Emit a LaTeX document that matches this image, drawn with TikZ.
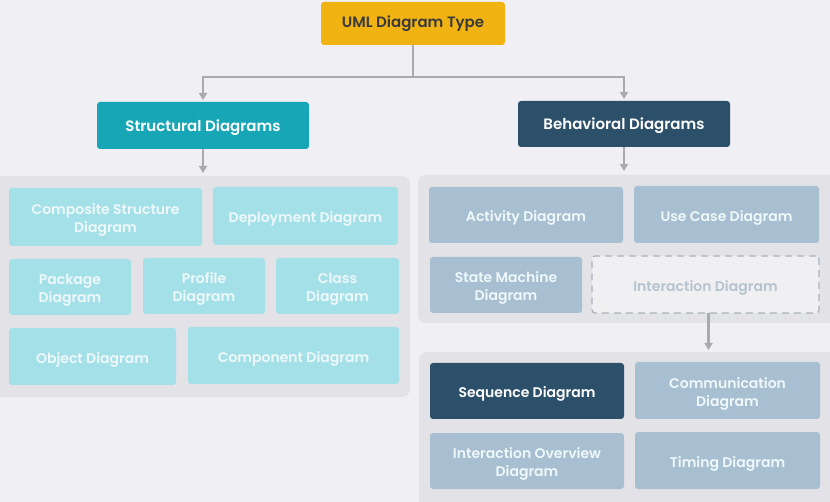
\documentclass[tikz,border=0pt]{standalone}
\usepackage{fontspec}
\setmainfont{Poppins}[BoldFont={Poppins SemiBold}]
\usetikzlibrary{arrows.meta,calc}
\definecolor{bgc}{HTML}{F0EFF3}
\definecolor{panelc}{HTML}{E3E2E6}
\definecolor{goldc}{HTML}{F1B312}
\definecolor{tealc}{HTML}{17A6B6}
\definecolor{navyc}{HTML}{2C5069}
\definecolor{cyanc}{HTML}{A4E0E8}
\definecolor{bgrayc}{HTML}{A7BFD0}
\definecolor{dashfill}{HTML}{F0F0F3}
\definecolor{dashline}{HTML}{A9B3BE}
\definecolor{dashtext}{HTML}{B5C3CE}
\definecolor{connc}{HTML}{A9A9AE}
\definecolor{titletext}{HTML}{3A3A3A}
\definecolor{lighttext}{HTML}{EEF8FA}
\newcommand\lbl[2][-3pt]{\raisebox{#1}[\height][\depth]{\begin{tabular}{@{}c@{}}#2\end{tabular}}}
\begin{document}
\begin{tikzpicture}[x=1pt,y=-1pt,
  box/.style={anchor=north west,inner sep=0pt,outer sep=0pt,rounded corners=3pt,
    font=\fontsize{14}{18}\selectfont\bfseries},
  headbox/.style={box,font=\fontsize{15}{18}\selectfont\bfseries},
  cyanbox/.style={box,fill=cyanc,text=lighttext},
  graybox/.style={box,fill=bgrayc,text=lighttext},
  navybox/.style={box,fill=navyc,text=white},
  dashbox/.style={box,fill=dashfill,draw=dashline,dashed,dash pattern=on 7pt off 5pt,line width=1.3pt,text=dashtext},
  panel/.style={anchor=north west,inner sep=0pt,outer sep=0pt,fill=panelc,rounded corners=8pt},
  conn/.style={draw=connc,line width=2.2pt,-{Triangle[length=7pt,width=8pt]}},
  connplain/.style={draw=connc,line width=2.2pt}]
\useasboundingbox (0,0) rectangle (830,502);
\clip (0,0) rectangle (830,502);
\fill[bgc] (0,0) rectangle (830,502);
% panels
\node[panel,minimum width=420pt,minimum height=221pt] (lpanel) at (-10,176) {};
\node[panel,minimum width=420pt,minimum height=148pt] (rpanel) at (418,175) {};
\node[panel,minimum width=420pt,minimum height=160pt] (bpanel) at (419,352) {};
% top
\node[headbox,fill=goldc,text=titletext,minimum width=184pt,minimum height=43pt] (title) at (321,2) {\lbl[0pt]{UML Diagram Type}};
\node[headbox,fill=tealc,text=white,minimum width=212pt,minimum height=47pt] (struct) at (97,102) {\lbl[-2pt]{Structural Diagrams}};
\node[headbox,fill=navyc,text=white,minimum width=212pt,minimum height=46pt] (behav) at (518,101) {\lbl[-2pt]{Behavioral Diagrams}};
% left boxes
\node[cyanbox,minimum width=193pt,minimum height=58pt] (composite) at (9,188) {\lbl{Composite Structure\\Diagram}};
\node[cyanbox,minimum width=185pt,minimum height=58pt] (deploy) at (213,187) {\lbl{Deployment Diagram}};
\node[cyanbox,minimum width=122pt,minimum height=56pt] (package) at (9,259) {\lbl{Package\\Diagram}};
\node[cyanbox,minimum width=122pt,minimum height=56pt] (profile) at (143,258) {\lbl{Profile\\Diagram}};
\node[cyanbox,minimum width=123pt,minimum height=56pt] (class) at (276,258) {\lbl{Class\\Diagram}};
\node[cyanbox,minimum width=167pt,minimum height=57pt] (object) at (9,328) {\lbl{Object Diagram}};
\node[cyanbox,minimum width=211pt,minimum height=57pt] (component) at (188,327) {\lbl{Component Diagram}};
% right top boxes
\node[graybox,minimum width=194pt,minimum height=56pt] (activity) at (429,187) {\lbl{Activity Diagram}};
\node[graybox,minimum width=185pt,minimum height=57pt] (usecase) at (634,186) {\lbl{Use Case Diagram}};
\node[graybox,minimum width=152pt,minimum height=56pt] (state) at (430,257) {\lbl{State Machine\\Diagram}};
\node[dashbox,minimum width=227pt,minimum height=57pt] (inter) at (592,256) {\lbl{Interaction Diagram}};
% bottom right boxes
\node[navybox,minimum width=194pt,minimum height=56pt] (sequence) at (430,363) {\lbl{Sequence Diagram}};
\node[graybox,minimum width=185pt,minimum height=57pt] (comm) at (635,362) {\lbl{Communication\\Diagram}};
\node[graybox,minimum width=194pt,minimum height=56pt] (overview) at (430,433) {\lbl{Interaction Overview\\Diagram}};
\node[graybox,minimum width=185pt,minimum height=57pt] (timing) at (635,432) {\lbl{Timing Diagram}};
% connectors
\coordinate (junc) at ($(title.south)+(0,32)$);
\draw[connplain] (title.south) -- (junc);
\draw[conn,shorten >=2pt] (junc) -| (struct.north);
\draw[conn,shorten >=2pt] (junc) -| (behav.north);
\draw[conn,shorten >=3pt] (struct.south) -- (struct.south |- lpanel.north);
\draw[conn,shorten >=4pt] (behav.south) -- (behav.south |- rpanel.north);
\draw[conn,shorten >=2pt] ([xshift=3pt]inter.south) -- ([xshift=3pt]inter.south |- bpanel.north);
\end{tikzpicture}
\end{document}
